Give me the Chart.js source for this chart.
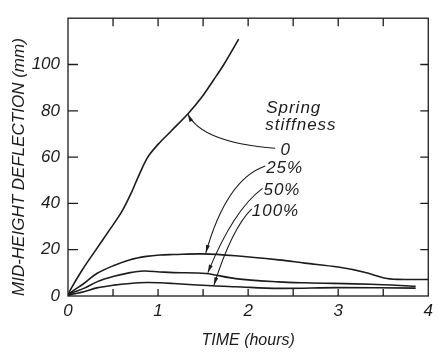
<!DOCTYPE html>
<html>
<head>
<meta charset="utf-8">
<script src="https://cdn.jsdelivr.net/npm/chart.js@4.4.1/dist/chart.umd.min.js"></script>
<style>
  html, body { margin: 0; padding: 0; background: #fff; }
  #wrap { width: 438px; height: 352px; }
</style>
</head>
<body>
<div id="wrap"><canvas id="deflChart" width="438" height="352"></canvas></div>
<script>
// values (time in hours, deflection in mm)
const time0 = [0, 0.025, 0.154, 0.30, 0.45, 0.595, 0.705, 0.797, 0.889, 1.0, 1.146, 1.33, 1.48, 1.62, 1.73, 1.895];
const defl0 = [0, 2.5, 11.0, 19.4, 27.9, 36.3, 44.8, 53.0, 60.2, 65.5, 71.3, 78.6, 85.6, 93.5, 100, 111];

const time25 = [0, 0.03, 0.176, 0.32, 0.51, 0.69, 0.87, 1.02, 1.17, 1.49, 1.86, 2.34, 2.63, 3.0, 3.29, 3.51, 3.66, 4.0];
const defl25 = [0, 1.5, 5.4, 9.7, 13.2, 15.7, 17.1, 17.7, 17.9, 18.2, 17.4, 15.6, 14.2, 12.5, 10.3, 7.8, 7.2, 7.1];

const time50 = [0, 0.03, 0.176, 0.32, 0.51, 0.69, 0.84, 1.02, 1.17, 1.53, 1.86, 2.34, 2.63, 3.36, 3.86];
const defl50 = [0, 1, 3.3, 6.1, 8.5, 10.1, 10.8, 10.4, 10.1, 9.7, 7.5, 6.1, 5.7, 5.1, 4.2];

const time100 = [0, 0.03, 0.176, 0.32, 0.51, 0.69, 0.87, 1.02, 1.17, 1.60, 1.86, 2.34, 3.0, 3.86];
const defl100 = [0, 0.6, 1.8, 3.5, 4.7, 5.4, 5.8, 5.7, 5.4, 4.4, 4.0, 3.3, 3.6, 3.4];

const xTickLabels = [0, 1, 2, 3, 4];
const yTickLabels = [0, 20, 40, 60, 80, 100];

// annotation text and leader arrows, in data units [x, y]
const legendTitle = ['Spring', 'stiffness'];
const legendTitlePos = [[2.20, 81.1], [2.19, 73.9]];
const seriesLabels = ['0', '25%', '50%', '100%'];
const seriesLabelPos = [[2.36, 62.9], [2.20, 55.3], [2.17, 45.6], [2.04, 36.8]];
const arrowPaths = [
    [[2.30, 63.8], [1.485, 66.3], [1.33, 78.6]],
    [[2.19, 56.2], [1.76, 50.4], [1.53, 18.6]],
    [[2.16, 46.5], [1.836, 37.2], [1.553, 10.1]],
    [[2.04, 37.6], [1.82, 29.2], [1.62, 4.6]]
];

const ink = '#1c1c1c';
const fontFam = '"Liberation Sans", Arial, sans-serif';

function pts(xs, ys) {
    return xs.map((x, i) => ({ x: x, y: ys[i] }));
}

function line(xs, ys) {
    return {
        data: pts(xs, ys),
        borderColor: ink,
        borderWidth: 1.6,
        pointRadius: 0,
        fill: false,
        tension: 0.35
    };
}

// frame with inward ticks on all four sides, plus the labels and arrows
const framePlugin = {
    id: 'frame',
    afterDatasetsDraw(chart) {
        const ctx = chart.ctx;
        const a = chart.chartArea;
        const xs = chart.scales.x, ys = chart.scales.y;
        ctx.save();
        ctx.strokeStyle = ink;
        ctx.lineWidth = 1.3;
        ctx.strokeRect(a.left, a.top, a.right - a.left, a.bottom - a.top);

        ctx.beginPath();
        for (let t = 0.5; t < 4; t += 0.5) {
            const px = xs.getPixelForValue(t);
            ctx.moveTo(px, a.bottom); ctx.lineTo(px, a.bottom - 7);
            ctx.moveTo(px, a.top); ctx.lineTo(px, a.top + 8);
        }
        for (let v = 20; v <= 100; v += 20) {
            const py = ys.getPixelForValue(v);
            ctx.moveTo(a.left, py); ctx.lineTo(a.left + 10, py);
            ctx.moveTo(a.right, py); ctx.lineTo(a.right - 8, py);
        }
        ctx.stroke();

        // text
        ctx.fillStyle = ink;
        ctx.font = 'italic 17px ' + fontFam;
        ctx.textBaseline = 'middle';
        ctx.textAlign = 'left';
        ctx.letterSpacing = '1px';
        legendTitle.forEach((s, i) => {
            ctx.fillText(s, xs.getPixelForValue(legendTitlePos[i][0]), ys.getPixelForValue(legendTitlePos[i][1]));
        });
        seriesLabels.forEach((s, i) => {
            ctx.fillText(s, xs.getPixelForValue(seriesLabelPos[i][0]), ys.getPixelForValue(seriesLabelPos[i][1]));
        });
        ctx.letterSpacing = '0px';

        // leader arrows
        ctx.lineWidth = 1.1;
        arrowPaths.forEach(p => {
            const q = p.map(d => [xs.getPixelForValue(d[0]), ys.getPixelForValue(d[1])]);
            ctx.beginPath();
            ctx.moveTo(q[0][0], q[0][1]);
            ctx.quadraticCurveTo(q[1][0], q[1][1], q[2][0], q[2][1]);
            ctx.stroke();
            const ang = Math.atan2(q[2][1] - q[1][1], q[2][0] - q[1][0]);
            const len = 8, half = 2;
            ctx.beginPath();
            ctx.moveTo(q[2][0], q[2][1]);
            ctx.lineTo(q[2][0] - len * Math.cos(ang) + half * Math.sin(ang), q[2][1] - len * Math.sin(ang) - half * Math.cos(ang));
            ctx.lineTo(q[2][0] - len * Math.cos(ang) - half * Math.sin(ang), q[2][1] - len * Math.sin(ang) + half * Math.cos(ang));
            ctx.closePath();
            ctx.fill();
        });
        ctx.restore();
    }
};

const chart = new Chart(document.getElementById('deflChart').getContext('2d'), {
    type: 'line',
    data: {
        datasets: [
            line(time0, defl0),
            line(time25, defl25),
            line(time50, defl50),
            line(time100, defl100)
        ]
    },
    options: {
        responsive: false,
        animation: false,
        layout: { padding: { top: 12, right: 7, left: 0, bottom: 0 } },
        plugins: { legend: { display: false }, tooltip: { enabled: false } },
        scales: {
            x: {
                type: 'linear',
                min: 0,
                max: 4,
                afterFit(scale) { scale.height = 56; },
                afterBuildTicks(scale) { scale.ticks = xTickLabels.map(v => ({ value: v })); },
                grid: { display: false, drawTicks: false },
                border: { display: false },
                ticks: {
                    padding: 5,
                    color: ink,
                    font: { family: fontFam, size: 17, style: 'italic' }
                },
                title: {
                    display: true,
                    text: 'TIME (hours)',
                    color: ink,
                    padding: { top: 2, bottom: 2 },
                    font: { family: fontFam, size: 16, style: 'italic' }
                }
            },
            y: {
                min: 0,
                max: 120,
                afterFit(scale) { scale.width = 68; },
                afterBuildTicks(scale) { scale.ticks = yTickLabels.map(v => ({ value: v })); },
                grid: { display: false, drawTicks: false },
                border: { display: false },
                ticks: {
                    padding: 8,
                    color: ink,
                    font: { family: fontFam, size: 17, style: 'italic' }
                },
                title: {
                    display: true,
                    text: 'MID-HEIGHT DEFLECTION (mm)',
                    align: 'start',
                    color: ink,
                    padding: { top: 9, bottom: 0 },
                    font: { family: fontFam, size: 17, style: 'italic' }
                }
            }
        }
    },
    plugins: [framePlugin]
});
</script>
</body>
</html>
